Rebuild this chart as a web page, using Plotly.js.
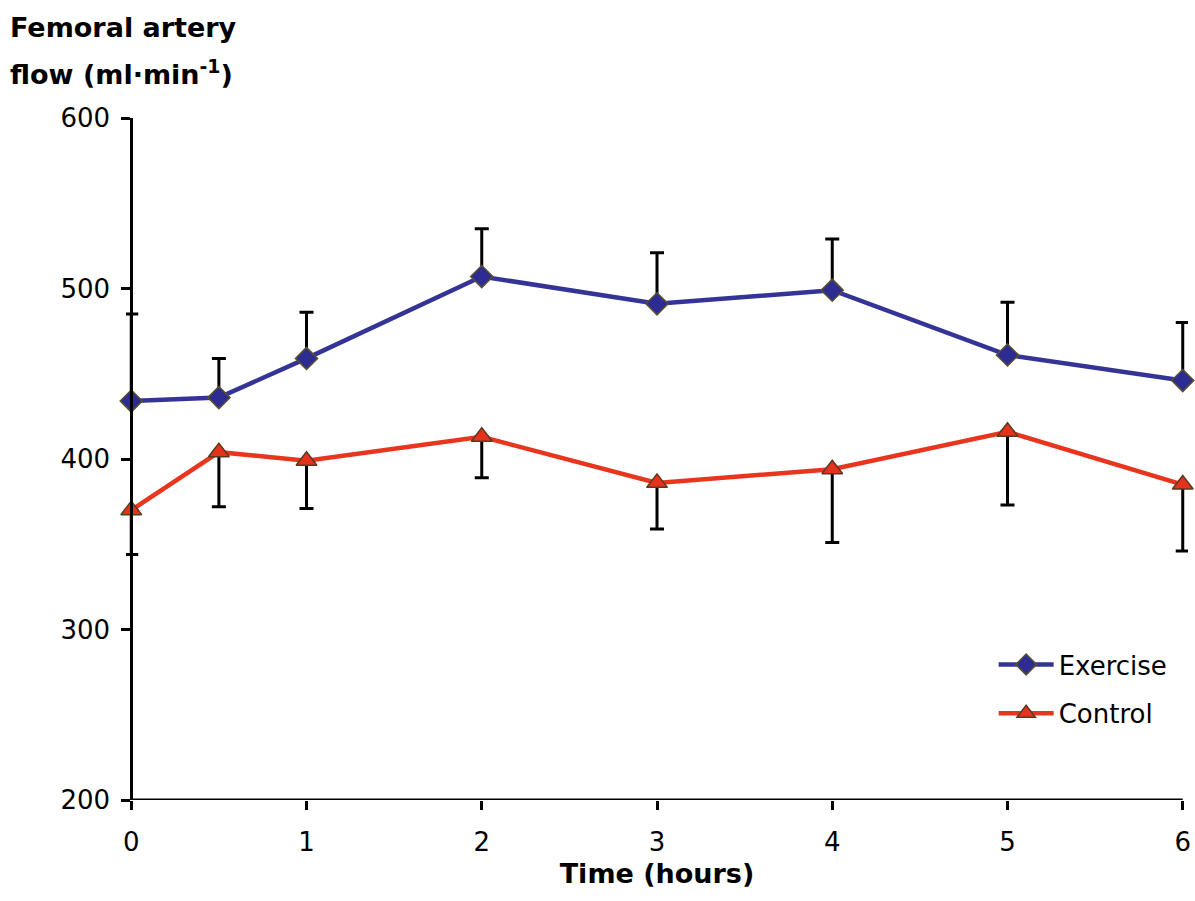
<!DOCTYPE html>
<html>
<head>
<meta charset="utf-8">
<script src="https://cdn.plot.ly/plotly-3.0.1.min.js"></script>
<style>html,body{margin:0;padding:0;background:#fff;}#chart{width:1195px;height:901px;}</style>
</head>
<body>
<div id="chart"></div>
<script>
var timeHours = [0, 0.5, 1, 2, 3, 4, 5, 6];
var exerciseFlow = [434, 436, 459, 507, 491, 499, 461, 446];
var exerciseErrUp = [51, 23, 27, 28, 30, 30, 31, 34];
var controlFlow = [370, 404, 399, 413, 386, 394, 416, 385];
var controlErrDown = [26, 32, 28, 24, 27, 43, 43, 39];
var xTicks = [0, 1, 2, 3, 4, 5, 6];
var yTicks = [200, 300, 400, 500, 600];
var zeros = timeHours.map(function(){return 0;});

var font = "DejaVu Sans, Verdana, sans-serif";
var xMin = 0, xMax = 6, pad = 0.03;
var yMin = 200, yMax = 600;

var exercise = {
  x: timeHours, y: exerciseFlow, name: "Exercise", legendgroup: "a",
  type: "scatter", mode: "lines+markers", cliponaxis: false,
  line: {color: "#343497", width: 4.5},
  marker: {symbol: "diamond", size: 17, color: "#2c2c92", line: {color: "#5a5030", width: 1.5}},
  error_y: {type: "data", symmetric: false, array: exerciseErrUp, arrayminus: zeros,
            color: "#000", thickness: 3, width: 7}
};
var control = {
  x: timeHours, y: controlFlow, name: "Control", legendgroup: "b",
  type: "scatter", mode: "lines+markers", cliponaxis: false,
  line: {color: "#e8361e", width: 4.5},
  marker: {symbol: "triangle-up", size: 18, color: "#e6321c", line: {color: "#5a3a20", width: 1.5}},
  error_y: {type: "data", symmetric: false, array: zeros, arrayminus: controlErrDown,
            color: "#000", thickness: 3, width: 7}
};

var layout = {
  width: 1195, height: 901,
  margin: {l: 126, r: 7, t: 118, b: 101},
  paper_bgcolor: "#fff", plot_bgcolor: "#fff",
  font: {family: font, size: 26, color: "#000"},
  showlegend: true,
  legend: {x: 0.817, y: 0.233, xanchor: "left", yanchor: "top",
           bgcolor: "rgba(0,0,0,0)", font: {family: font, size: 26}, itemwidth: 55,
           traceorder: "grouped", tracegroupgap: 12},
  xaxis: {
    range: [xMin - pad, xMax + pad], tickvals: xTicks, ticktext: xTicks.map(String),
    showgrid: false, zeroline: false, showline: false,
    ticks: "outside", ticklen: 9, tickwidth: 3, tickcolor: "#000",
    ticklabelstandoff: 10,
    tickfont: {family: font, size: 26},
    title: {text: "<b>Time (hours)</b>", font: {family: font, size: 27}, standoff: 7}
  },
  yaxis: {
    range: [yMin, yMax], tickvals: yTicks, ticktext: yTicks.map(String),
    anchor: "free", position: pad / (xMax - xMin + 2 * pad),
    showgrid: false, zeroline: false, showline: true, linecolor: "#000", linewidth: 3,
    ticks: "outside", ticklen: 9, tickwidth: 3, tickcolor: "#000",
    ticklabelstandoff: 6,
    tickfont: {family: font, size: 26}
  },
  shapes: [{
    type: "line", xref: "x", yref: "y", x0: xMin, x1: xMax, y0: yMin, y1: yMin,
    line: {color: "#000", width: 3}, layer: "above"
  }],
  annotations: [{
    xref: "paper", yref: "paper", x: -0.111, y: 1.1334, xanchor: "left", yanchor: "middle",
    align: "left", showarrow: false,
    text: "<b>Femoral artery</b>",
    font: {family: font, size: 27, color: "#000"}
  }, {
    xref: "paper", yref: "paper", x: -0.111, y: 1.067, xanchor: "left", yanchor: "middle",
    align: "left", showarrow: false,
    text: "<b>flow (ml·min<sup>-1</sup>)</b>",
    font: {family: font, size: 27, color: "#000"}
  }]
};

Plotly.newPlot("chart", [exercise, control], layout, {displayModeBar: false});
</script>
</body>
</html>
